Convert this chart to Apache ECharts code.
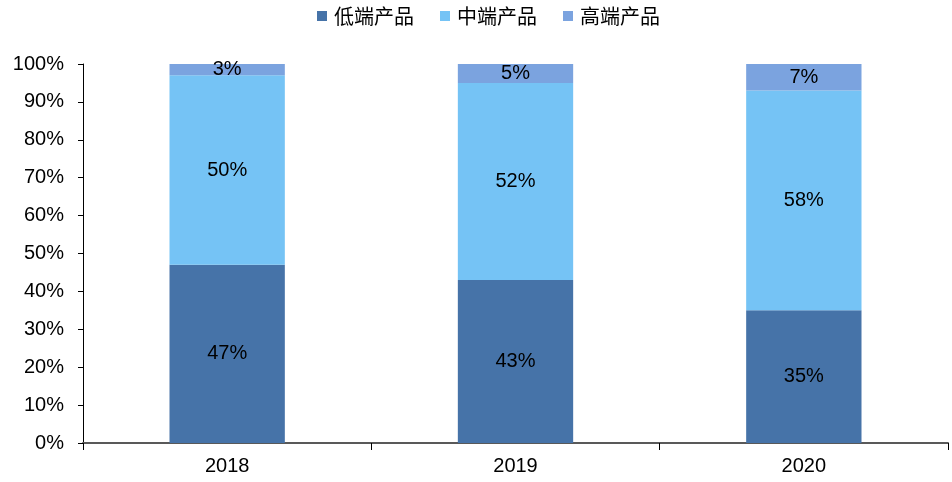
<!DOCTYPE html>
<html>
<head>
<meta charset="utf-8">
<script src="https://cdn.jsdelivr.net/npm/echarts@6/dist/echarts.min.js"></script>
<style>
html,body{margin:0;padding:0;background:#fff;}
#chart{width:952px;height:482px;}
</style>
</head>
<body>
<div id="chart"></div>
<script>
// Product-tier share by year (percent)
const years = ['2018', '2019', '2020'];
const lowEnd = [47, 43, 35];
const midEnd = [50, 52, 58];
const highEnd = [3, 5, 7];
const seriesNames = ['低端产品', '中端产品', '高端产品'];
const colors = ['#4673A8', '#75C3F5', '#7BA3DF'];

const chart = echarts.init(document.getElementById('chart'));

const labelStyle = {
  show: true,
  position: 'inside',
  formatter: p => p.value + '%',
  color: '#000',
  fontSize: 20,
  fontFamily: 'Liberation Sans, Arial, sans-serif'
};

function makeSeries(name, data, color) {
  return {
    name: name,
    type: 'bar',
    stack: 'total',
    data: data,
    barWidth: '40%',
    itemStyle: { color: color },
    label: labelStyle
  };
}

chart.setOption({
  animation: false,
  color: colors,
  legend: {
    top: 1,
    left: 312,
    itemWidth: 10,
    itemHeight: 10,
    itemGap: 26,
    icon: 'rect',
    textStyle: {
      fontSize: 20,
      color: '#000',
      padding: [0, 0, 0, 2],
      fontFamily: 'Noto Sans CJK SC, sans-serif'
    },
    data: seriesNames
  },
  grid: { left: 83, right: 4, top: 64, bottom: 39 },
  xAxis: {
    type: 'category',
    data: years,
    axisLine: { lineStyle: { color: '#595959', width: 2 } },
    axisTick: { show: true, alignWithLabel: false, length: 7, lineStyle: { color: '#000' } },
    axisLabel: {
      color: '#000',
      fontSize: 20,
      margin: 13,
      fontFamily: 'Liberation Sans, Arial, sans-serif'
    }
  },
  yAxis: {
    type: 'value',
    min: 0,
    max: 100,
    interval: 10,
    axisLine: { show: true, lineStyle: { color: '#000', width: 1 } },
    axisTick: { show: true, length: 5, lineStyle: { color: '#000' } },
    splitLine: { show: false },
    axisLabel: {
      color: '#000',
      fontSize: 20,
      margin: 19,
      formatter: '{value}%',
      fontFamily: 'Liberation Sans, Arial, sans-serif'
    }
  },
  series: [
    makeSeries(seriesNames[0], lowEnd, colors[0]),
    makeSeries(seriesNames[1], midEnd, colors[1]),
    makeSeries(seriesNames[2], highEnd, colors[2])
  ]
});
</script>
</body>
</html>
